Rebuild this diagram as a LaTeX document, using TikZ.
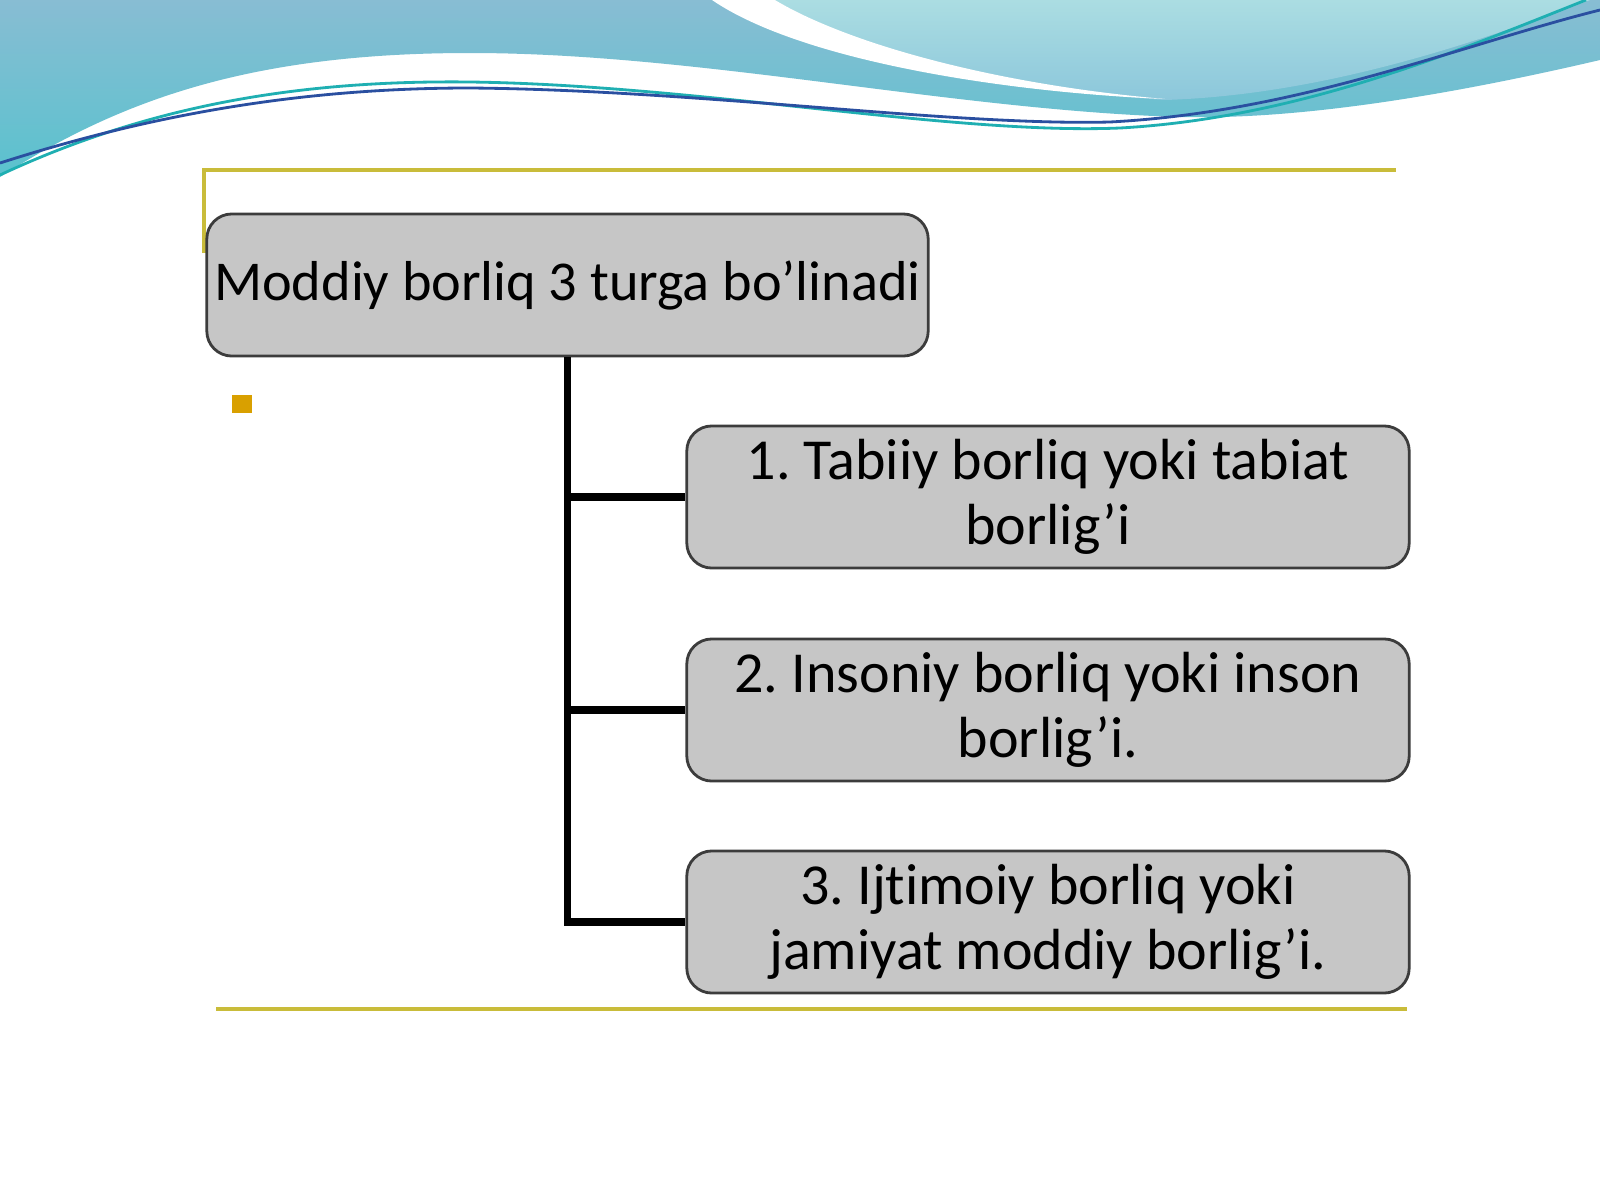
\documentclass[tikz,border=0pt]{standalone}
\usepackage{fontspec}
\setmainfont[Ligatures={NoCommon}]{Carlito}
\definecolor{bandtop}{HTML}{88BDD3}
\definecolor{bandbottom}{HTML}{5AC2CE}
\definecolor{lighttop}{HTML}{ABDDE2}
\definecolor{lightbottom}{HTML}{8CC7DB}
\definecolor{lineteal}{HTML}{1FAFB2}
\definecolor{lineblue}{HTML}{2A4FA0}
\definecolor{goldline}{HTML}{C9BC3A}
\definecolor{bulletgold}{HTML}{D9A000}
\definecolor{boxgray}{HTML}{C6C6C6}
\definecolor{boxline}{HTML}{3C3C3C}
\frenchspacing
\begin{document}
\begin{tikzpicture}[x=0.01cm, y=-0.01cm,
    box/.style={draw=boxline, fill=boxgray, rounded corners=0.25cm, line width=0.8pt,
        minimum width=7.22cm, minimum height=1.42cm, inner sep=0pt, align=center,
        font=\fontsize{16.5}{18.3}\selectfont},
    conn/.style={line width=2pt, black},
    rule/.style={line width=1pt, goldline}]
        \useasboundingbox (0,0) rectangle (1600,1200);
        \fill[white] (0,0) rectangle (1600,1200);

        % Волна сверху
        \shade[top color=bandtop, bottom color=bandbottom] (0,0) -- (1600,0) -- (1600,60)
            .. controls (1450,95) and (1300,120) .. (1180,117)
            .. controls (950,110) and (700,53) .. (470,53)
            .. controls (250,53) and (120,100) .. (0,177) -- cycle;
        \shade[top color=lighttop, bottom color=lightbottom] (775,0)
            .. controls (850,45) and (1000,90) .. (1165,100)
            .. controls (1320,95) and (1470,45) .. (1590,0) -- cycle;
        \fill[white] (712,0) .. controls (800,60) and (1000,92) .. (1165,99)
            .. controls (1000,85) and (850,45) .. (775,0) -- cycle;
        \draw[lineteal, line width=0.8pt] (0,175) .. controls (150,105) and (300,80) .. (470,82)
            .. controls (700,85) and (950,135) .. (1120,128)
            .. controls (1300,118) and (1460,50) .. (1586,0);
        \draw[lineblue, line width=0.8pt] (0,163) .. controls (150,115) and (300,88) .. (470,88)
            .. controls (700,90) and (950,126) .. (1110,122)
            .. controls (1300,112) and (1460,45) .. (1600,10);

        % Золотые линии и маркер
        \draw[rule] (204,253) -- (204,170) -- (1396,170);
        \draw[rule] (216,1009) -- (1407,1009);
        \fill[bulletgold] (232,395) rectangle (252,413);

        % Узлы
        \node[box, minimum width=7.21cm, font=\fontsize{16}{19}\selectfont] (root) at (567.5,285) {Moddiy borliq 3 turga bo’linadi};
        \node[box] (tabiat) at (1048,497) {1. Tabiiy borliq yoki tabiat\\borlig’i};
        \node[box] (inson) at (1048,710) {2. Insoniy borliq yoki inson\\borlig’i.};
        \node[box] (jamiyat) at (1048,922) {3. Ijtimoiy borliq yoki\\jamiyat moddiy borlig’i.};

        % Соединения
        \draw[conn] (root.south) |- (tabiat.west);
        \draw[conn] (root.south) |- (inson.west);
        \draw[conn] (root.south) |- (jamiyat.west);
    \end{tikzpicture}
\end{document}
